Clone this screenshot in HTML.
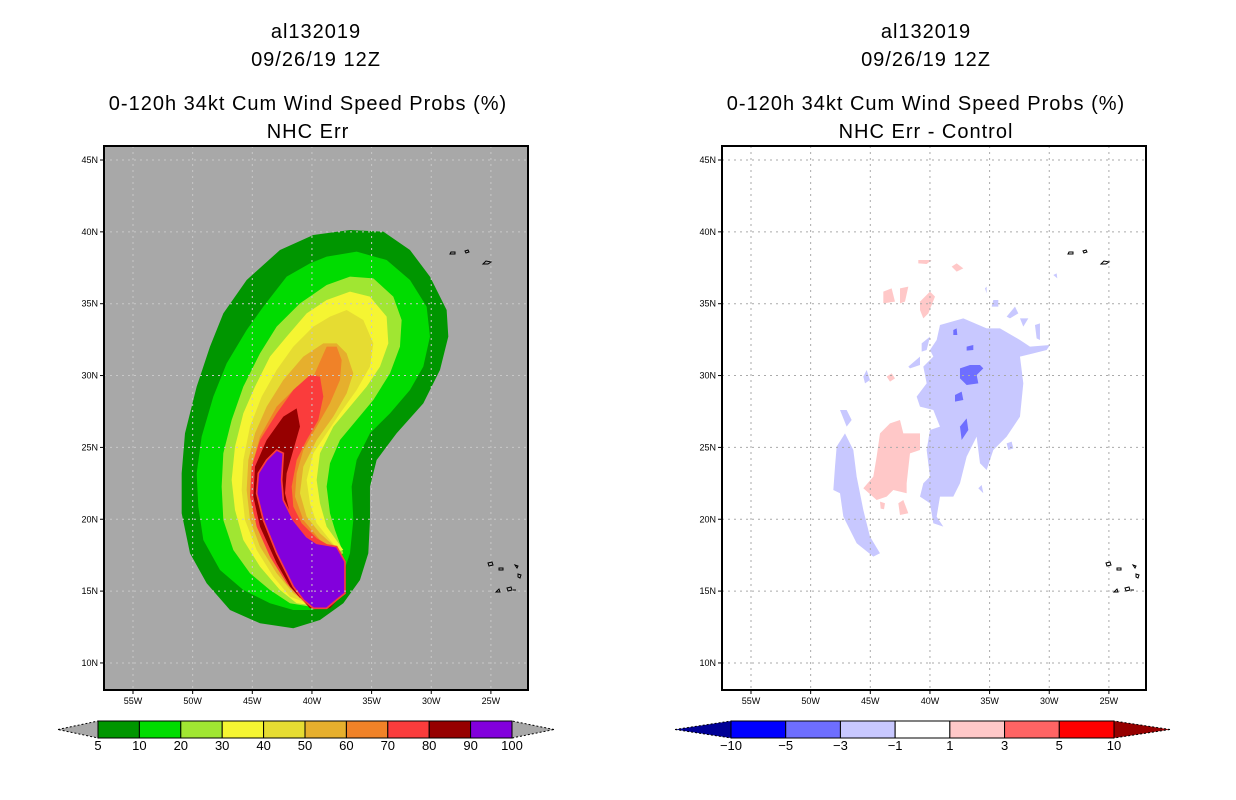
<!DOCTYPE html>
<html><head><meta charset="utf-8"><style>
body{margin:0;background:#fff;}
svg{display:block;font-family:"Liberation Sans","DejaVu Sans",sans-serif;}
.t{font-size:20px;letter-spacing:1px;text-anchor:middle;fill:#000;}
.tk{font-size:9px;fill:#000;}
.cb{font-size:13px;text-anchor:middle;fill:#000;}
</style></head><body>
<svg id="s" width="1236" height="800" viewBox="0 0 1236 800" xmlns="http://www.w3.org/2000/svg">
<g>
<text class="t" x="316" y="38">al132019</text>
<text class="t" x="316" y="66">09/26/19 12Z</text>
<text class="t" x="308" y="110">0-120h 34kt Cum Wind Speed Probs (%)</text>
<text class="t" x="308" y="138">NHC Err</text>
</g>
<g>
<text class="t" x="926" y="38">al132019</text>
<text class="t" x="926" y="66">09/26/19 12Z</text>
<text class="t" x="926" y="110">0-120h 34kt Cum Wind Speed Probs (%)</text>
<text class="t" x="926" y="138">NHC Err - Control</text>
</g>
<rect x="104" y="146" width="424" height="544" fill="#a8a8a8"/>
<g id="leftContours" transform="translate(170,220) scale(0.3333)"></g>
<g id="rightContours" transform="translate(820,250) scale(0.3333)"></g>
<g id="grids"></g>
<g id="islands" fill="none" stroke="#000" stroke-width="1">
<path d="M450 254h5v-2h-4z M465 251l3 -1 1 2 -3 1z M483 264l3-3 5 1-3 2z"/>
<path d="M1068 254h5v-2h-4z M1083 251l3 -1 1 2 -3 1z M1101 264l3-3 5 1-3 2z"/>
<path d="M488 563l4-1 1 3-4 1z M499 568h4v2h-4z M515 565l3 1-1 2z M518 574l3 1-1 3-2-1z M496 592l3-3 1 3z M507 588l4-1 1 3-4 1z M513 590h3"/>
<path d="M1106 563l4-1 1 3-4 1z M1117 568h4v2h-4z M1133 565l3 1-1 2z M1136 574l3 1-1 3-2-1z M1114 592l3-3 1 3z M1125 588l4-1 1 3-4 1z M1131 590h3"/>
</g>
<rect x="104" y="146" width="424" height="544" fill="none" stroke="#000" stroke-width="2"/>
<rect x="722" y="146" width="424" height="544" fill="none" stroke="#000" stroke-width="2"/>
<g id="axes"></g>
<g id="cbars"></g>
</svg>
<script>
const NS="http://www.w3.org/2000/svg";
const latTicks=[45,40,35,30,25,20,15,10];
const lonTicks=[55,50,45,40,35,30,25];
const leftLevels=["5","10","20","30","40","50","60","70","80","90","100"];
const leftColors=["#009600","#00dc00","#a0e632","#f5f532","#e6dc32","#e6af2d","#f08228","#fa3c3c","#960000","#8200dc"];
const rightLevels=["-10","-5","-3","-1","1","3","5","10"];
const rightColors=["#0000ff","#6e6eff","#c8c8ff","#ffffff","#ffc8c8","#ff6464","#ff0000"];
const rightTips=["#000096","#960000"];
// contour polygons (zoomed coordinates)
const leftPolys=[
[0,"540,30 640,35 720,90 780,170 830,270 835,350 810,450 760,550 680,640 620,720 600,800 600,900 595,1000 570,1080 520,1150 450,1200 370,1225 270,1210 180,1170 110,1090 60,1000 35,880 35,760 45,640 80,500 120,380 160,280 230,180 330,90 430,45"],
[1,"470,110 560,95 650,120 720,180 770,260 780,350 760,440 720,510 660,580 600,640 560,720 545,800 550,900 540,1000 520,1060 480,1130 430,1170 370,1170 300,1150 220,1110 150,1050 100,960 85,860 80,760 95,650 130,530 170,430 230,330 280,260 350,170 420,130"],
[2,"470,195 540,170 610,175 670,230 695,300 690,380 660,460 610,540 560,600 510,660 480,730 470,800 480,880 495,930 520,1000 500,1010 460,1100 420,1160 360,1150 300,1110 240,1060 190,990 160,900 155,800 160,700 185,600 220,500 270,400 320,320 390,250"],
[3,"470,240 540,215 600,230 650,290 655,370 630,440 590,500 540,560 490,620 450,700 440,780 450,850 470,920 520,990 480,1000 440,1110 420,1155 380,1150 330,1110 270,1040 220,960 195,870 185,780 195,680 220,580 255,500 300,410 350,350 410,280"],
[4,"480,290 530,270 580,300 610,370 600,440 560,510 510,580 470,640 430,700 410,780 420,850 440,910 480,960 510,995 470,1000 430,1100 400,1145 360,1130 310,1070 260,990 225,900 215,810 220,720 240,620 275,530 320,450 370,380 430,320"],
[5,"460,370 500,370 530,400 550,460 530,520 490,590 440,660 400,740 390,820 410,890 450,940 500,985 430,1110 400,1140 370,1120 320,1060 270,980 240,900 230,810 235,720 255,640 290,560 340,480 400,410"],
[6,"430,470 470,380 500,380 515,420 510,480 480,550 440,620 400,690 380,760 375,830 400,900 450,960 500,990 430,1110 390,1135 350,1090 300,1010 260,920 240,830 245,740 270,650 320,560 380,500"],
[7,"420,465 450,470 460,530 445,600 410,660 380,720 365,800 370,860 395,910 440,955 500,990 430,1110 390,1135 350,1090 300,1010 260,920 240,830 245,740 270,660 320,580 370,510"],
[8,"340,590 380,565 390,620 370,690 350,760 345,820 360,880 400,940 440,970 490,980 520,1020 520,1120 480,1165 420,1165 360,1100 320,1030 270,920 250,830 255,740 290,660"],
[9,"320,690 340,700 335,780 340,840 370,900 410,950 440,970 500,980 525,1025 525,1120 500,1140 470,1165 430,1165 400,1140 370,1100 320,1000 280,900 260,820 265,760 290,720"]
];
const rightPolys=[
[2,"360,225 430,205 500,235 540,235 600,270 630,290 690,285 680,300 640,310 600,320 610,400 600,500 560,560 520,600 500,660 480,640 470,560 440,620 420,700 400,740 360,740 350,800 370,830 340,820 330,760 300,740 310,700 330,680 320,600 330,540 360,530 340,480 300,470 290,440 320,400 310,350 340,320 330,300 350,270"],
[2,"50,590 75,550 100,600 110,680 130,780 150,860 180,910 160,920 110,880 70,800 60,730 40,720 45,650"],
[2,"305,280 330,260 320,300 305,305"],[2,"265,350 300,320 300,345 270,355"],[2,"130,380 140,360 150,390 135,400"],
[2,"60,480 80,480 95,510 80,530"],[2,"520,150 535,150 535,170 515,170"],[2,"560,200 585,170 595,190 570,205"],
[2,"600,205 625,205 610,230"],[2,"645,225 660,220 660,270 650,265"],[2,"560,580 575,575 580,595 565,600"],
[2,"475,715 485,705 490,730"],[2,"700,75 710,70 712,85"],[2,"495,115 500,110 500,130"],
[1,"420,355 450,345 480,345 490,355 470,375 475,400 440,405 420,385"],[1,"405,435 425,425 430,450 405,455"],
[1,"420,530 440,505 445,540 425,570"],[1,"440,290 460,285 460,300 440,302"],[1,"400,240 410,235 412,255 400,255"],
[4,"180,550 210,520 240,510 250,550 300,550 300,600 270,610 260,700 260,730 220,720 200,740 170,750 130,715 160,680 170,620"],
[4,"190,125 215,115 225,155 190,160"],[4,"240,115 265,110 255,155 240,160"],
[4,"300,155 330,125 345,140 325,190 310,205 300,180"],[4,"295,30 335,30 320,42 295,40"],
[4,"395,50 410,40 430,55 410,65"],[4,"200,380 215,370 225,385 210,395"],
[4,"180,755 195,760 192,778 182,776"],[4,"235,760 250,750 265,790 240,795"]
];
function el(tag,attrs,parent){const e=document.createElementNS(NS,tag);for(const k in attrs)e.setAttribute(k,attrs[k]);parent.appendChild(e);return e;}
const LC=document.getElementById('leftContours');
leftPolys.forEach(p=>{const e=el('polygon',{points:p[1],fill:leftColors[p[0]],stroke:p[0]==9?"#fa3c3c":"none","stroke-width":p[0]==9?5:0},LC);

});
const RC=document.getElementById('rightContours');
rightPolys.forEach(p=>{const e=el('polygon',{points:p[1],fill:rightColors[p[0]]},RC);

});
// axes
function xL(w,off){return off+133+(55-w)*11.93;}
function yL(l){return 160+(45-l)*14.37;}
const G=document.getElementById('grids'),A=document.getElementById('axes');
[[0,104],[618,722]].forEach(([off,x0])=>{
 latTicks.forEach(l=>{const y=yL(l);
  const g=el('line',{x1:x0,x2:x0+424,y1:y,y2:y,stroke:off?"#aaa":"#c8c8c8","stroke-dasharray":"2,4","stroke-width":1},G);
  
  el('line',{x1:x0-4,x2:x0,y1:y,y2:y,stroke:"#000"},A);
  const t=el('text',{x:x0-6,y:y+3,"text-anchor":"end",class:"tk"},A);t.textContent=l+"N";
  });
 lonTicks.forEach(w=>{const x=xL(w,off);
  const g=el('line',{x1:x,x2:x,y1:146,y2:690,stroke:off?"#aaa":"#c8c8c8","stroke-dasharray":"2,4","stroke-width":1},G);
  
  el('line',{x1:x,x2:x,y1:690,y2:694,stroke:"#000"},A);
  const t=el('text',{x:x,y:704,"text-anchor":"middle",class:"tk"},A);t.textContent=w+"W";
  });
});
// colorbars
const C=document.getElementById('cbars');
function cbar(x0,x1,tipL,tipR,colors,labels,tipColors,name){
 const n=colors.length,w=(x1-x0)/n,y0=721,h=17;
 const a=el('polygon',{points:`${tipL},${y0+h/2} ${x0},${y0} ${x0},${y0+h}`,fill:tipColors[0],stroke:"#000","stroke-dasharray":"2,2"},C);
 
 const b=el('polygon',{points:`${tipR},${y0+h/2} ${x1},${y0} ${x1},${y0+h}`,fill:tipColors[1],stroke:"#000","stroke-dasharray":"2,2"},C);
 
 colors.forEach((c,i)=>{const r=el('rect',{x:x0+i*w,y:y0,width:w,height:h,fill:c,stroke:"#000","stroke-width":1},C);
  });
 labels.forEach((l,i)=>{const t=el('text',{x:x0+i*w,y:750,class:"cb"},C);t.textContent=l;
  });
}
cbar(98,512,58,554,leftColors,leftLevels,["#a8a8a8","#a8a8a8"],'left-colorbar');
cbar(731,1114,675,1170,rightColors,rightLevels.map(s=>s.replace('-','\u2212')),rightTips,'right-colorbar');
</script>
</body></html>
